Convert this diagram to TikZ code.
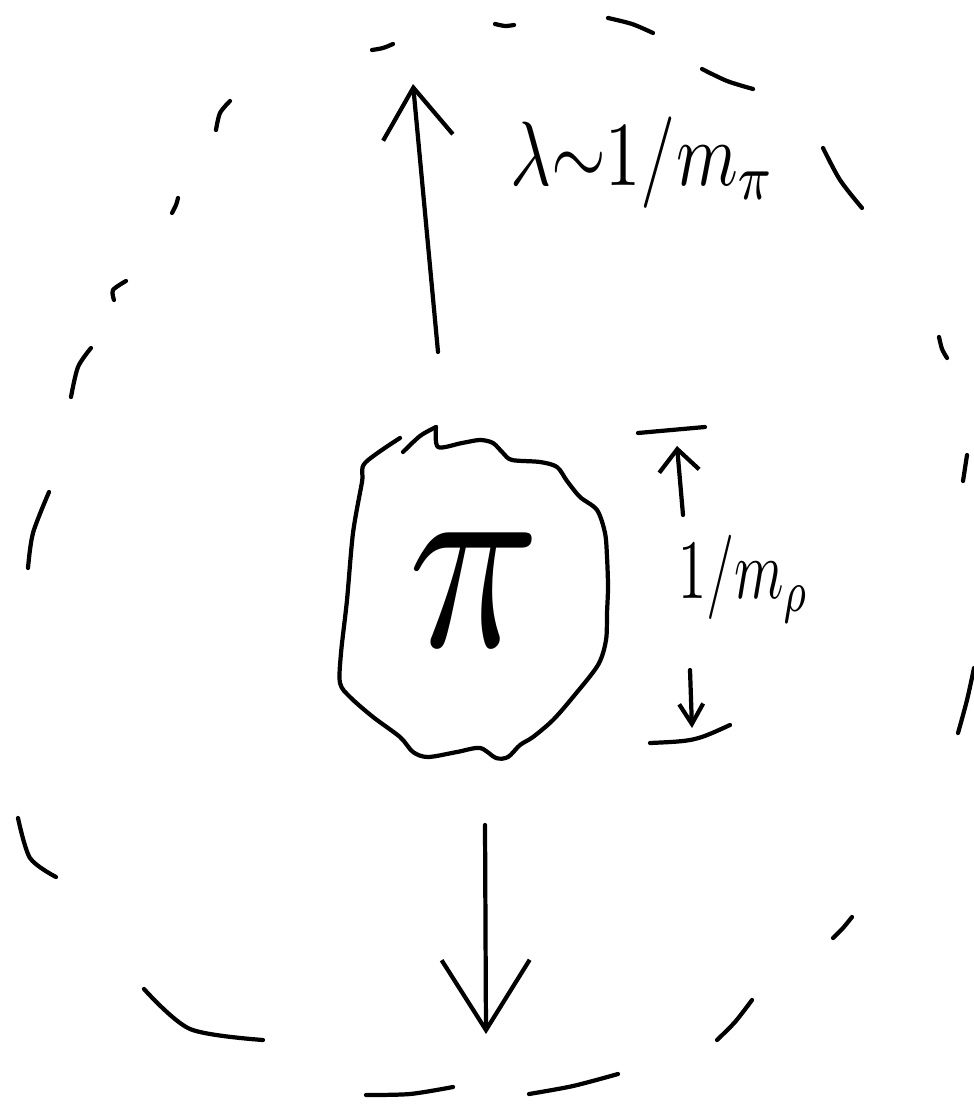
\documentclass[tikz,border=0pt]{standalone}
\usepackage{xcolor}
\usetikzlibrary{arrows.meta}

\tikzset{
  pen/.style={line width=1.2pt, line cap=round, line join=round},
  bigtip/.style={-{Straight Barb[length=5mm,width=7mm]}},
  uptip/.style={-{Straight Barb[length=2.2mm,width=4mm]}},
  dntip/.style={-{Straight Barb[length=2mm,width=2.4mm]}}
}

\begin{document}
\begin{tikzpicture}[x=0.01cm,y=-0.01cm,pen]
    \useasboundingbox (0,0) rectangle (974,1110);

    % 定义点变量
    \coordinate (upS) at (438,352);
    \coordinate (upE) at (413,84);
    \coordinate (dnS) at (485,825);
    \coordinate (dnE) at (486,1034);
    \coordinate (rUpS) at (683,515);
    \coordinate (rUpE) at (677,446);
    \coordinate (rDnS) at (690,670);
    \coordinate (rDnE) at (692,728);
    \coordinate (barA) at (638,433);
    \coordinate (barB) at (705,427);
    \coordinate (barC) at (650,743);
    \coordinate (barD) at (730,725);

    % 虚线大圆 (手画的短线)
    \foreach \ax/\ay/\bx/\by/\cx/\cy in {
        372/50/383/48/393/44, 495/24/505/26/514/25,
        608/18/632/24/653/33, 702/69/727/81/753/89,
        823/148/840/180/862/208, 939/337/942/349/947/358,
        967/455/965/468/963/481, 974/668/967/700/958/733,
        852/917/843/928/833/938, 752/1000/735/1022/717/1040,
        618/1074/573/1086/529/1094, 453/1087/410/1094/366/1095,
        263/1040/190/1029/144/989, 56/877/30/858/18/818,
        28/568/33/533/49/492, 71/397/78/367/91/348,
        114/300/113/290/126/281, 172/213/176/205/178/198,
        216/130/220/113/230/101}
        \draw plot[smooth] coordinates {(\ax,\ay) (\bx,\by) (\cx,\cy)};

    % 中间的团
    \draw plot[smooth, tension=0.5] coordinates {(403,452) (420,436) (436,427)};
    \draw plot[smooth, tension=0.5] coordinates {
        (436,427) (438,447) (462,443) (480,440) (493,443) (503,453)
        (512,460) (540,462) (557,467) (567,481) (580,497) (597,510)
        (605,533) (607,557) (608,587) (607,613) (606,640) (598,665)
        (573,697) (553,720) (533,737) (520,745) (508,757) (496,758)
        (480,748) (457,752) (428,757) (413,752) (400,737) (373,717)
        (350,697) (340,683) (341,653) (347,600) (353,533) (362,482)
        (365,463) (400,438)};
    \node[xscale=6.2,yscale=7.5] (pi) at (475,590) {$\pi$};

    % 大箭头
    \draw[bigtip] (upS) -- (upE);
    \draw[-{Straight Barb[length=7mm,width=8.8mm]}] (dnS) -- (dnE);
    \node[xscale=2,yscale=2.6] (lam) at (643,163) {$\lambda{\sim}1/m_\pi$};

    % 右侧的小箭头
    \draw (barA) -- (barB);
    \draw[uptip] (rUpS) -- (rUpE);
    \draw[dntip] (rDnS) -- (rDnE);
    \draw (barC) .. controls (695,741) .. (barD);
    \node[xscale=1.6,yscale=2.4] (mrho) at (744,579) {$1/m_\rho$};

\end{tikzpicture}
\end{document}
